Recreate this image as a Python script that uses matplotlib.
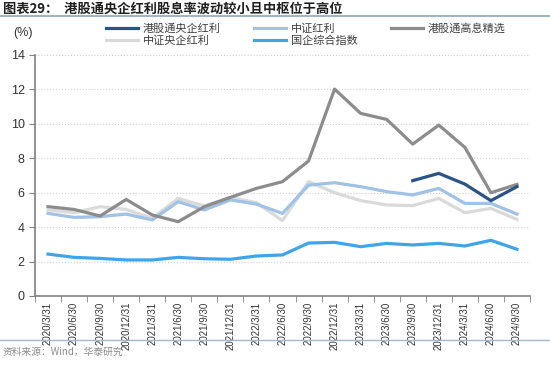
import matplotlib
matplotlib.use("Agg")
import matplotlib.pyplot as plt
import numpy as np

plt.rcParams["font.family"] = ["Noto Sans CJK SC", "DejaVu Sans"]

# data
dates = ["2020/3/31", "2020/6/30", "2020/9/30", "2020/12/31", "2021/3/31", "2021/6/30",
         "2021/9/30", "2021/12/31", "2022/3/31", "2022/6/30", "2022/9/30", "2022/12/31",
         "2023/3/31", "2023/6/30", "2023/9/30", "2023/12/31", "2024/3/31", "2024/6/30",
         "2024/9/30"]
ggt_soe_div = [None] * 14 + [6.69, 7.11, 6.49, 5.53, 6.34]
csi_div = [4.79, 4.56, 4.60, 4.75, 4.41, 5.47, 4.99, 5.57, 5.33, 4.79,
           6.43, 6.57, 6.34, 6.05, 5.86, 6.24, 5.37, 5.37, 4.75]
ggt_high_div = [5.18, 5.02, 4.64, 5.60, 4.70, 4.31, 5.18, 5.72, 6.24, 6.63,
                7.83, 12.0, 10.59, 10.24, 8.81, 9.91, 8.62, 5.99, 6.47]
csi_soe_div = [4.99, 4.83, 5.18, 5.02, 4.50, 5.66, 5.22, 5.72, 5.41, 4.37,
               6.63, 5.99, 5.53, 5.28, 5.24, 5.66, 4.83, 5.08, 4.44]
soe_index = [2.43, 2.24, 2.18, 2.09, 2.09, 2.24, 2.16, 2.13, 2.32, 2.38,
             3.07, 3.11, 2.86, 3.05, 2.96, 3.05, 2.90, 3.23, 2.71]

series = {
    "港股通央企红利": (ggt_soe_div, "#2b5486"),
    "中证红利": (csi_div, "#9fc2e6"),
    "港股通高息精选": (ggt_high_div, "#8c8c8c"),
    "中证央企红利": (csi_soe_div, "#dadada"),
    "国企综合指数": (soe_index, "#3ea5eb"),
}

fig = plt.figure(figsize=(5.5, 3.79), dpi=100)
ax = fig.add_axes([0.0636, 0.219, 0.9, 0.637])

x = np.arange(len(dates))
handles = {}
# background lines first
for name in ["中证央企红利", "中证红利", "国企综合指数", "港股通高息精选", "港股通央企红利"]:
    vals, color = series[name]
    y = np.array([np.nan if v is None else v for v in vals], dtype=float)
    (h,) = ax.plot(x, y, color=color, lw=2.3)
    handles[name] = h

tick_font = "Liberation Sans"
ax.set_xlim(-0.5, len(dates) - 0.5)
ax.set_ylim(0, 14)
ax.set_yticks(range(0, 15, 2))
ax.set_xticks(x)
ax.set_xticklabels(dates, rotation=90, fontsize=7, family=tick_font, color="#333333")
ax.set_xticks(np.arange(-0.5, len(dates), 1), minor=True)
ax.tick_params(axis="x", which="major", length=0, pad=4)
ax.tick_params(axis="x", which="minor", length=4, color="#808080", direction="out")
ax.tick_params(axis="y", length=4, color="#808080", labelsize=9, labelcolor="#333333")
for lab in ax.get_yticklabels():
    lab.set_family(tick_font)
ax.grid(axis="y", color="#d0d0d0", ls=":", lw=0.8)
for s in ["top", "right"]:
    ax.spines[s].set_visible(False)
for s in ["left", "bottom"]:
    ax.spines[s].set_color("#808080")
    ax.spines[s].set_linewidth(1.2)

# legend filled column-wise: give order so rows read left to right
order = ["港股通央企红利", "中证央企红利", "中证红利", "国企综合指数", "港股通高息精选"]
leg = fig.legend([handles[n] for n in order], order, ncol=3, loc="upper left",
                 bbox_to_anchor=(0.175, 0.965), frameon=False, fontsize=8,
                 handlelength=2.9, columnspacing=3.0, labelspacing=0.15,
                 handletextpad=0.4)
for t in leg.get_texts():
    t.set_color("#404040")

fig.text(0.025, 0.905, "(%)", fontsize=9, color="#333333", family=tick_font)

# title
fig.text(0.005, 0.978, "图表29：  港股通央企红利股息率波动较小且中枢位于高位",
         fontsize=9.5, fontweight="bold", color="#1f1f1f", va="center")
fig.add_artist(plt.Line2D([0, 1], [0.958, 0.958], color="#8ea5c6", lw=1.2))

# footer
fig.add_artist(plt.Line2D([0, 1], [0.103, 0.103], color="#a7b7cf", lw=1.0))
fig.text(0.005, 0.072, "资料来源：Wind，华泰研究", fontsize=7, color="#8c8c8c", va="center")

fig.savefig("out.png", dpi=100)
